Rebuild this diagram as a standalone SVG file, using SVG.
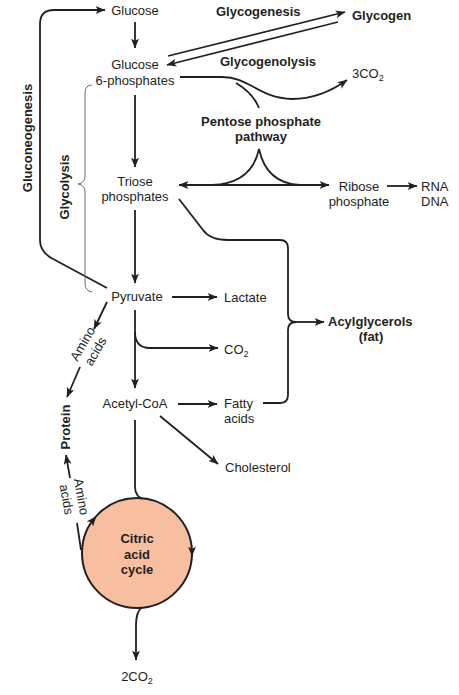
<svg xmlns="http://www.w3.org/2000/svg" width="459" height="695" viewBox="0 0 459 695">
<style>
text{font-family:"Liberation Sans",Arial,sans-serif;font-size:13px;fill:#231f20}
.b{font-weight:bold}
.m{text-anchor:middle}
.sub{font-size:9px}
.c{fill:none;stroke:#231f20;stroke-width:1.8}
.e{marker-end:url(#a)}
.br{fill:none;stroke:#6d6e71;stroke-width:1}
</style>
<defs>
<marker id="a" viewBox="0 0 10 8" refX="9.5" refY="4" markerWidth="10" markerHeight="8" markerUnits="userSpaceOnUse" orient="auto-start-reverse">
<path d="M0,0 L10,4 L0,8 L2.5,4 z" fill="#231f20"/>
</marker>
</defs>
<rect width="459" height="695" fill="#fff"/>
<g id="connectors">
<path class="c e" d="M135,22 L135,48"/>
<path class="c e" d="M168,56 L345,12"/>
<path class="c e" d="M338,22 L167,65"/>
<path class="c e" d="M180,77 L222,77 C250,77 258,98 292,99 C315,99 333,90 347,80"/>
<path class="c" d="M259,108 C255,98 248,90 236,83"/>
<path class="c e" d="M135,95 L135,167"/>
<path class="c" d="M179,185 L329,185" style="marker-start:url(#a);marker-end:url(#a)"/>
<path class="c" d="M212,185 C238,184 254,172 259,149 C264,172 278,184 300,185"/>
<path class="c e" d="M387,186 L417,186"/>
<path class="c e" d="M135,210 L135,283"/>
<path class="c" d="M179,199 L203,230 Q210,240 228,240 L280,240 Q288,240 288,248 L288,314 Q288,322 296,322"/>
<path class="c" d="M263,403 L280,403 Q288,403 288,395 L288,330 Q288,322 296,322"/>
<path class="c e" d="M292,322 L324,322"/>
<path class="c e" d="M107,288 L55,260 Q40,253 40,240 L40,24 Q40,10 54,10 L105,10"/>
<path class="br" d="M92,85 Q85,85 85,93 L85,176 Q85,183 78,184 Q85,185 85,192 L85,283 Q85,291 92,292"/>
<path class="c e" d="M172,297 L217,297"/>
<path class="c e" d="M135,310 L135,388"/>
<path class="c e" d="M135,332 Q135,348 150,348 L218,348"/>
<path class="c e" d="M107,302 L94,329"/>
<path class="c e" d="M80,367 L67,397"/>
<path class="c e" d="M178,404 L217,404"/>
<path class="c e" d="M160,416 L218,464"/>
<path class="c" d="M135,420 L135,487 Q135,497 145,500"/>
<path class="c e" d="M142,607 Q136,612 136,625 L136,660"/>
<path class="c" d="M81,550 L77,523"/>
<path class="c e" d="M70,478 L66,455"/>
</g>
<g id="citric-acid-cycle">
<circle cx="137" cy="553" r="55" fill="#f8bea0" stroke="#231f20" stroke-width="2"/>
<path class="c e" d="M92,521.5 L96,516.7" style="stroke-width:0.5"/>
<path class="c e" d="M192,549 L192,556" style="stroke-width:0.5"/>
<text class="b m" x="137" y="543">Citric</text>
<text class="b m" x="137" y="559">acid</text>
<text class="b m" x="137" y="574">cycle</text>
</g>
<g id="glucose"><text class="m" x="135" y="15">Glucose</text></g>
<g id="glucose-6p"><text class="m" x="135" y="69">Glucose</text><text class="m" x="135" y="84.5">6-phosphates</text></g>
<g id="glycogen"><text class="b" x="352" y="20">Glycogen</text></g>
<g id="glycogenesis"><text class="b" x="216" y="16">Glycogenesis</text></g>
<g id="glycogenolysis"><text class="b" x="220" y="66">Glycogenolysis</text></g>
<g id="co2-3"><text x="352" y="78">3CO<tspan class="sub" dy="3">2</tspan></text></g>
<g id="ppp"><text class="b m" x="261" y="126">Pentose phosphate</text><text class="b m" x="261" y="141">pathway</text></g>
<g id="triose"><text class="m" x="135" y="186">Triose</text><text class="m" x="135" y="201">phosphates</text></g>
<g id="ribose"><text class="m" x="359" y="191">Ribose</text><text class="m" x="359" y="206">phosphate</text></g>
<g id="rna"><text x="421" y="191">RNA</text><text x="421" y="206">DNA</text></g>
<g id="pyruvate"><text class="m" x="137" y="301">Pyruvate</text></g>
<g id="lactate"><text x="224" y="302">Lactate</text></g>
<g id="co2"><text x="224" y="354">CO<tspan class="sub" dy="3">2</tspan></text></g>
<g id="acetyl"><text class="m" x="135" y="408">Acetyl-CoA</text></g>
<g id="fatty"><text x="224" y="408">Fatty</text><text x="224" y="423">acids</text></g>
<g id="cholesterol"><text x="225" y="472">Cholesterol</text></g>
<g id="acyl"><text class="b" x="328" y="326">Acylglycerols</text><text class="b m" x="371" y="341">(fat)</text></g>
<g id="co2-2"><text class="m" x="137" y="681">2CO<tspan class="sub" dy="3">2</tspan></text></g>
<g id="protein"><text class="b m" transform="translate(69.5,427) rotate(-90)">Protein</text></g>
<g id="gluconeogenesis"><text class="b m" transform="translate(31.5,138) rotate(-90)">Gluconeogenesis</text></g>
<g id="glycolysis"><text class="b m" transform="translate(68.5,187) rotate(-90)">Glycolysis</text></g>
<g id="amino1"><g transform="translate(89,347.5) rotate(-60)"><text class="m" x="0" y="-3">Amino</text><text class="m" x="0" y="12">acids</text></g></g>
<g id="amino2"><g transform="translate(74,498) rotate(80)"><text class="m" x="0" y="-3">Amino</text><text class="m" x="0" y="12">acids</text></g></g>
</svg>
